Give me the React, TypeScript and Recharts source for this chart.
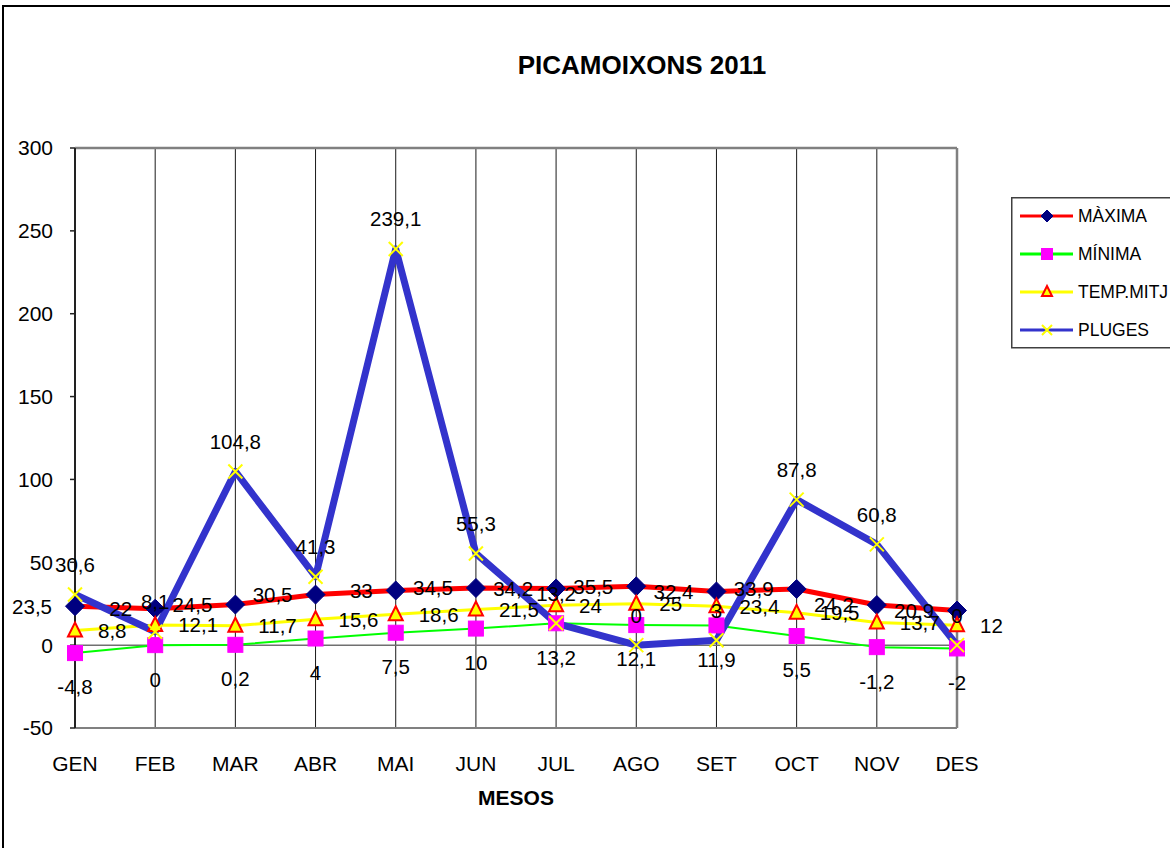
import React from 'react';
import { LineChart, Line, XAxis, YAxis, CartesianGrid, ReferenceLine, LabelList } from 'recharts';

const FONT = "'Liberation Sans', Arial, sans-serif";

const months = ['GEN', 'FEB', 'MAR', 'ABR', 'MAI', 'JUN', 'JUL', 'AGO', 'SET', 'OCT', 'NOV', 'DES'];
const maxima = [23.5, 22, 24.5, 30.5, 33, 34.5, 34.2, 35.5, 32.4, 33.9, 24.2, 20.9];
const minima = [-4.8, 0, 0.2, 4, 7.5, 10, 13.2, 12.1, 11.9, 5.5, -1.2, -2];
const tempMitja = [8.8, 12.1, 11.7, 15.6, 18.6, 21.5, 24, 25, 23.4, 19.5, 13.7, 12];
const pluges = [30.6, 8.1, 104.8, 41.3, 239.1, 55.3, 13.2, 0, 3, 87.8, 60.8, 0];
const yTicks = [-50, 0, 50, 100, 150, 200, 250, 300];

const seriesNames = ['MÀXIMA', 'MÍNIMA', 'TEMP.MITJ', 'PLUGES'];

const data = months.map((m, i) => ({
  mes: m,
  maxima: maxima[i],
  minima: minima[i],
  temp: tempMitja[i],
  pluges: pluges[i],
}));

const fmt = (v: number) => String(v).replace('.', ',');

const Diamond = ({ cx, cy, s = 9.5 }: any) => (
  <polygon points={`${cx},${cy - s} ${cx + s},${cy} ${cx},${cy + s} ${cx - s},${cy}`} fill="#000080" stroke="#000080" strokeWidth={1} />
);
const Square = ({ cx, cy, s = 7.5 }: any) => (
  <rect x={cx - s} y={cy - s} width={2 * s} height={2 * s} fill="#FF00FF" stroke="#FF00FF" strokeWidth={1} />
);
const Triangle = ({ cx, cy, s = 7 }: any) => (
  <polygon points={`${cx},${cy - s - 1} ${cx + s},${cy + s - 1} ${cx - s},${cy + s - 1}`} fill="#FFFF00" stroke="#FF0000" strokeWidth={2} />
);
const Cross = ({ cx, cy, s = 7 }: any) => (
  <path d={`M${cx - s},${cy - s}L${cx + s},${cy + s}M${cx - s},${cy + s}L${cx + s},${cy - s}`} stroke="#FFFF00" strokeWidth={2} fill="none" />
);

const pt = (p: any) => ({ x: p.x ?? p.viewBox?.x, y: p.y ?? p.viewBox?.y });
const LS = { fontSize: 20.5, fill: '#000', fontFamily: FONT };

const leftLabel = (p: any) => {
  const { x, y } = pt(p);
  return <text x={x - 23} y={y} dy="0.36em" textAnchor="end" style={LS}>{fmt(p.value)}</text>;
};
const rightLabel = (p: any) => {
  const { x, y } = pt(p);
  return <text x={x + 23} y={y} dy="0.36em" textAnchor="start" style={LS}>{fmt(p.value)}</text>;
};
const belowLabel = (p: any) => {
  const { x, y } = pt(p);
  return <text x={x} y={y + 34} dy="0.36em" textAnchor="middle" style={LS}>{fmt(p.value)}</text>;
};
const aboveLabel = (p: any) => {
  const { x, y } = pt(p);
  return <text x={x} y={y - 30} dy="0.36em" textAnchor="middle" style={LS}>{fmt(p.value)}</text>;
};

const legendColors = [
  { stroke: '#FF0000', w: 3, M: Diamond, s: 6 },
  { stroke: '#00FF00', w: 3, M: Square, s: 5.5 },
  { stroke: '#FFFF00', w: 3, M: Triangle, s: 5 },
  { stroke: '#3333CC', w: 3, M: Cross, s: 5 },
];

export default function App() {
  return (
    <div style={{ position: 'relative', width: 1170, height: 848, overflow: 'hidden', background: '#fff', fontFamily: FONT }}>
      <style>{'body{margin:0}'}</style>
      <div style={{ position: 'absolute', left: 2, top: 5, width: 1400, height: 1100, border: '2px solid #000', boxSizing: 'border-box' }} />
      <div style={{ position: 'absolute', left: 0, top: 52, width: 1284, textAlign: 'center', fontSize: 26, lineHeight: '26px', fontWeight: 'bold', color: '#000' }}>
        PICAMOIXONS 2011
      </div>
      <div style={{ position: 'absolute', left: 0, top: 0 }}>
        <LineChart width={1170} height={848} data={data} margin={{ top: 148, right: 213, left: 15, bottom: 40 }}>
          <CartesianGrid horizontal={false} vertical stroke="#1a1a1a" strokeWidth={1} />
          <XAxis
            dataKey="mes"
            height={80}
            tickLine={false}
            tickSize={0}
            tickMargin={28}
            axisLine={{ stroke: '#808080', strokeWidth: 2 }}
            tick={{ fontSize: 21, fill: '#000', fontFamily: FONT }}
            interval={0}
            label={(props: any) => {
              const vb = props.viewBox || {};
              return (
                <text x={vb.x + vb.width / 2} y={vb.y + 77} textAnchor="middle" style={{ fontSize: 21, fontWeight: 'bold', fill: '#000', fontFamily: FONT }}>
                  MESOS
                </text>
              );
            }}
          />
          <YAxis
            width={60}
            domain={[-50, 300]}
            ticks={yTicks}
            interval={0}
            tickSize={5}
            tickMargin={17}
            axisLine={{ stroke: '#222', strokeWidth: 2 }}
            tickLine={{ stroke: '#222', strokeWidth: 1.5 }}
            tick={{ fontSize: 21, fill: '#000', fontFamily: FONT }}
          />
          <ReferenceLine y={300} stroke="#808080" strokeWidth={2.5} />
          <ReferenceLine x="DES" stroke="#808080" strokeWidth={2.5} />
          <ReferenceLine y={0} stroke="#707070" strokeWidth={1.5} />
          <Line
            type="linear"
            dataKey="maxima"
            name={seriesNames[0]}
            stroke="#FF0000"
            strokeWidth={5}
            strokeLinejoin="round"
            isAnimationActive={false}
            dot={(p: any) => <Diamond key={`d${p.index}`} cx={p.cx} cy={p.cy} />}
          >
            <LabelList dataKey="maxima" content={leftLabel} />
          </Line>
          <Line
            type="linear"
            dataKey="minima"
            name={seriesNames[1]}
            stroke="#00FF00"
            strokeWidth={2}
            strokeLinejoin="round"
            isAnimationActive={false}
            dot={(p: any) => <Square key={`s${p.index}`} cx={p.cx} cy={p.cy} />}
          >
            <LabelList dataKey="minima" content={belowLabel} />
          </Line>
          <Line
            type="linear"
            dataKey="temp"
            name={seriesNames[2]}
            stroke="#FFFF00"
            strokeWidth={3}
            strokeLinejoin="round"
            isAnimationActive={false}
            dot={(p: any) => <Triangle key={`t${p.index}`} cx={p.cx} cy={p.cy} />}
          >
            <LabelList dataKey="temp" content={rightLabel} />
          </Line>
          <Line
            type="linear"
            dataKey="pluges"
            name={seriesNames[3]}
            stroke="#3333CC"
            strokeWidth={7}
            strokeLinejoin="round"
            isAnimationActive={false}
            dot={(p: any) => <Cross key={`c${p.index}`} cx={p.cx} cy={p.cy} />}
          >
            <LabelList dataKey="pluges" content={aboveLabel} />
          </Line>
        </LineChart>
      </div>
      <svg style={{ position: 'absolute', left: 1011, top: 197 }} width={170} height={152}>
        <rect x={0.75} y={0.75} width={200} height={150} fill="#fff" stroke="#404040" strokeWidth={1.5} />
        {seriesNames.map((n, i) => {
          const c = legendColors[i];
          const y = 19 + i * 38;
          const M = c.M;
          return (
            <g key={n}>
              <line x1={9} x2={62} y1={y} y2={y} stroke={c.stroke} strokeWidth={c.w} />
              <M cx={36} cy={y} s={c.s} />
              <text x={67} y={y} dy="0.36em" style={{ fontSize: 17.5, fill: '#000', fontFamily: FONT }}>{n}</text>
            </g>
          );
        })}
      </svg>
    </div>
  );
}
